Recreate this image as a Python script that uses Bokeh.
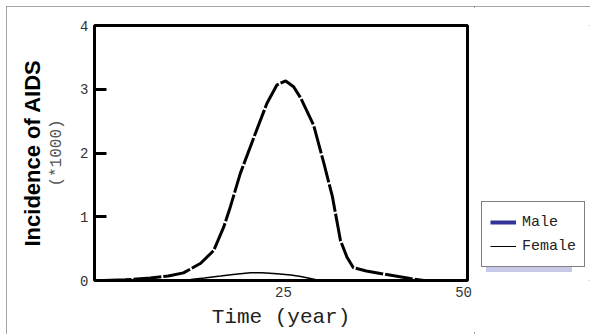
from bokeh.plotting import figure
from bokeh.layouts import row
from bokeh.models import Range1d, FixedTicker, LinearAxis, Legend, LegendItem
from bokeh.embed import file_html
from bokeh.resources import INLINE

# ---- data ----
male_t = [0, 3, 6.5, 9, 11.1, 13.5, 15.3, 16.7, 17.6, 19.0, 21.1, 22.7, 24.1, 25.3,
          26.4, 27.4, 29.2, 30.6, 31.8, 32.9, 33.8, 34.7, 36.5, 39.0, 42.6, 44.5, 46.4]
male_v = [0, 0.01, 0.04, 0.07, 0.12, 0.27, 0.47, 0.84, 1.15, 1.68, 2.31, 2.78, 3.07, 3.13,
          3.04, 2.86, 2.43, 1.84, 1.31, 0.63, 0.37, 0.20, 0.15, 0.10, 0.03, 0.0, -0.01]
female_t = [0, 5, 10, 12.1, 14, 16.25, 18, 20.4, 22, 24.1, 26, 27.4, 29.4, 30.5]
female_v = [0, 0.0, 0.005, 0.016, 0.04, 0.07, 0.095, 0.12, 0.12, 0.105, 0.085, 0.063, 0.016, 0]
x_ticks = [25, 50]
y_ticks = [0, 1, 2, 3, 4]
series_names = ["Male", "Female"]

MONO = "Liberation Mono"
H = 328

p = figure(width=468, height=H, output_backend="svg", toolbar_location=None,
           x_range=Range1d(-1.25, 50.55), y_range=Range1d(0, 4),
           min_border_left=88, min_border_right=7, min_border_top=19,
           min_border_bottom=54)
p.background_fill_color = "white"
p.border_fill_color = "white"
p.grid.visible = False
p.outline_line_color = "black"
p.outline_line_width = 3

# x axis
xa = p.xaxis[0]
xa.ticker = FixedTicker(ticks=x_ticks)
xa.axis_line_color = None
xa.major_tick_in = 0
xa.major_tick_out = 0
xa.minor_tick_line_color = None
xa.major_label_text_font = MONO
xa.major_label_text_font_size = "14px"
xa.major_label_text_color = "#333333"
xa.major_label_standoff = 6
xa.axis_label = "Time (year)"
xa.axis_label_text_font = MONO
xa.axis_label_text_font_size = "21px"
xa.axis_label_text_font_style = "normal"
xa.axis_label_text_color = "#222222"
xa.axis_label_standoff = 6

# y axis
ya = p.yaxis[0]
ya.ticker = FixedTicker(ticks=y_ticks)
ya.axis_line_color = None
ya.major_tick_in = 12
ya.major_tick_out = 0
ya.major_tick_line_width = 3
ya.major_tick_line_color = "black"
ya.minor_tick_line_color = None
ya.major_label_text_font = MONO
ya.major_label_text_font_size = "14px"
ya.major_label_text_color = "#333333"
ya.major_label_standoff = 6
ya.axis_label = "(*1000)"
ya.axis_label_text_font = MONO
ya.axis_label_text_font_size = "16px"
ya.axis_label_text_font_style = "normal"
ya.axis_label_text_color = "#555555"
ya.axis_label_standoff = 11

ya2 = LinearAxis(ticker=FixedTicker(ticks=[]), axis_label="Incidence of AIDS")
ya2.axis_line_color = None
ya2.major_tick_in = 0
ya2.major_tick_out = 0
ya2.minor_tick_line_color = None
ya2.major_label_text_font_size = "0px"
ya2.axis_label_text_font = "Liberation Sans"
ya2.axis_label_text_font_size = "22px"
ya2.axis_label_text_font_style = "bold"
ya2.axis_label_text_color = "black"
ya2.axis_label_standoff = 1
p.add_layout(ya2, "left")

# data lines
p.line(male_t, male_v, line_color="black", line_width=3, line_dash="28 2")
p.line(female_t, female_v, line_color="black", line_width=1.5)

# ---- legend panel (second figure to the right); its ranges keep the
# swatch renderers' data out of view so only the legend shows ----
p2 = figure(width=116, height=H, output_backend="svg", toolbar_location=None,
            x_range=Range1d(1000, 1001), y_range=Range1d(1000, 1001),
            x_axis_location=None, y_axis_location=None, min_border=0)
p2.grid.visible = False
p2.outline_line_color = None
p2.background_fill_color = "white"
p2.border_fill_color = "white"

male_sw = p2.line(male_t, male_v, line_color="#333399", line_width=4)
female_sw = p2.line(female_t, female_v, line_color="black", line_width=1)
shadow_sw = p2.line(female_t, female_v, line_alpha=0)

def make_legend(labels, renderers, loc, fill, border):
    lg = Legend(items=[LegendItem(label=n, renderers=[r]) for n, r in zip(labels, renderers)],
                location=loc, orientation="vertical")
    lg.background_fill_color = fill
    lg.background_fill_alpha = 1
    lg.border_line_color = border
    lg.border_line_width = 1
    lg.label_text_font = MONO
    lg.label_text_font_size = "15px"
    lg.label_text_color = "#222222"
    lg.glyph_width = 26
    lg.glyph_height = 24
    lg.label_height = 24
    lg.label_standoff = 6
    lg.spacing = 0
    lg.padding = 8
    lg.margin = 0
    return lg

# drop shadow: same-size box, blank (monospace-width) labels
blank = ["\u00a0" * len(n) for n in series_names]
shadow = make_legend(blank, [shadow_sw, shadow_sw], (12, 8), "#c8c8e8", None)
p2.add_layout(shadow, "center")
legend = make_legend(series_names, [male_sw, female_sw], (7, 13), "white", "black")
p2.add_layout(legend, "center")

layout = row(p, p2, spacing=0)
layout.styles = {"margin-left": "6px", "margin-top": "6px",
                 "outline": "2px solid #8a8a8a", "outline-offset": "-2px"}

open("out.html", "w").write(file_html(layout, INLINE))
